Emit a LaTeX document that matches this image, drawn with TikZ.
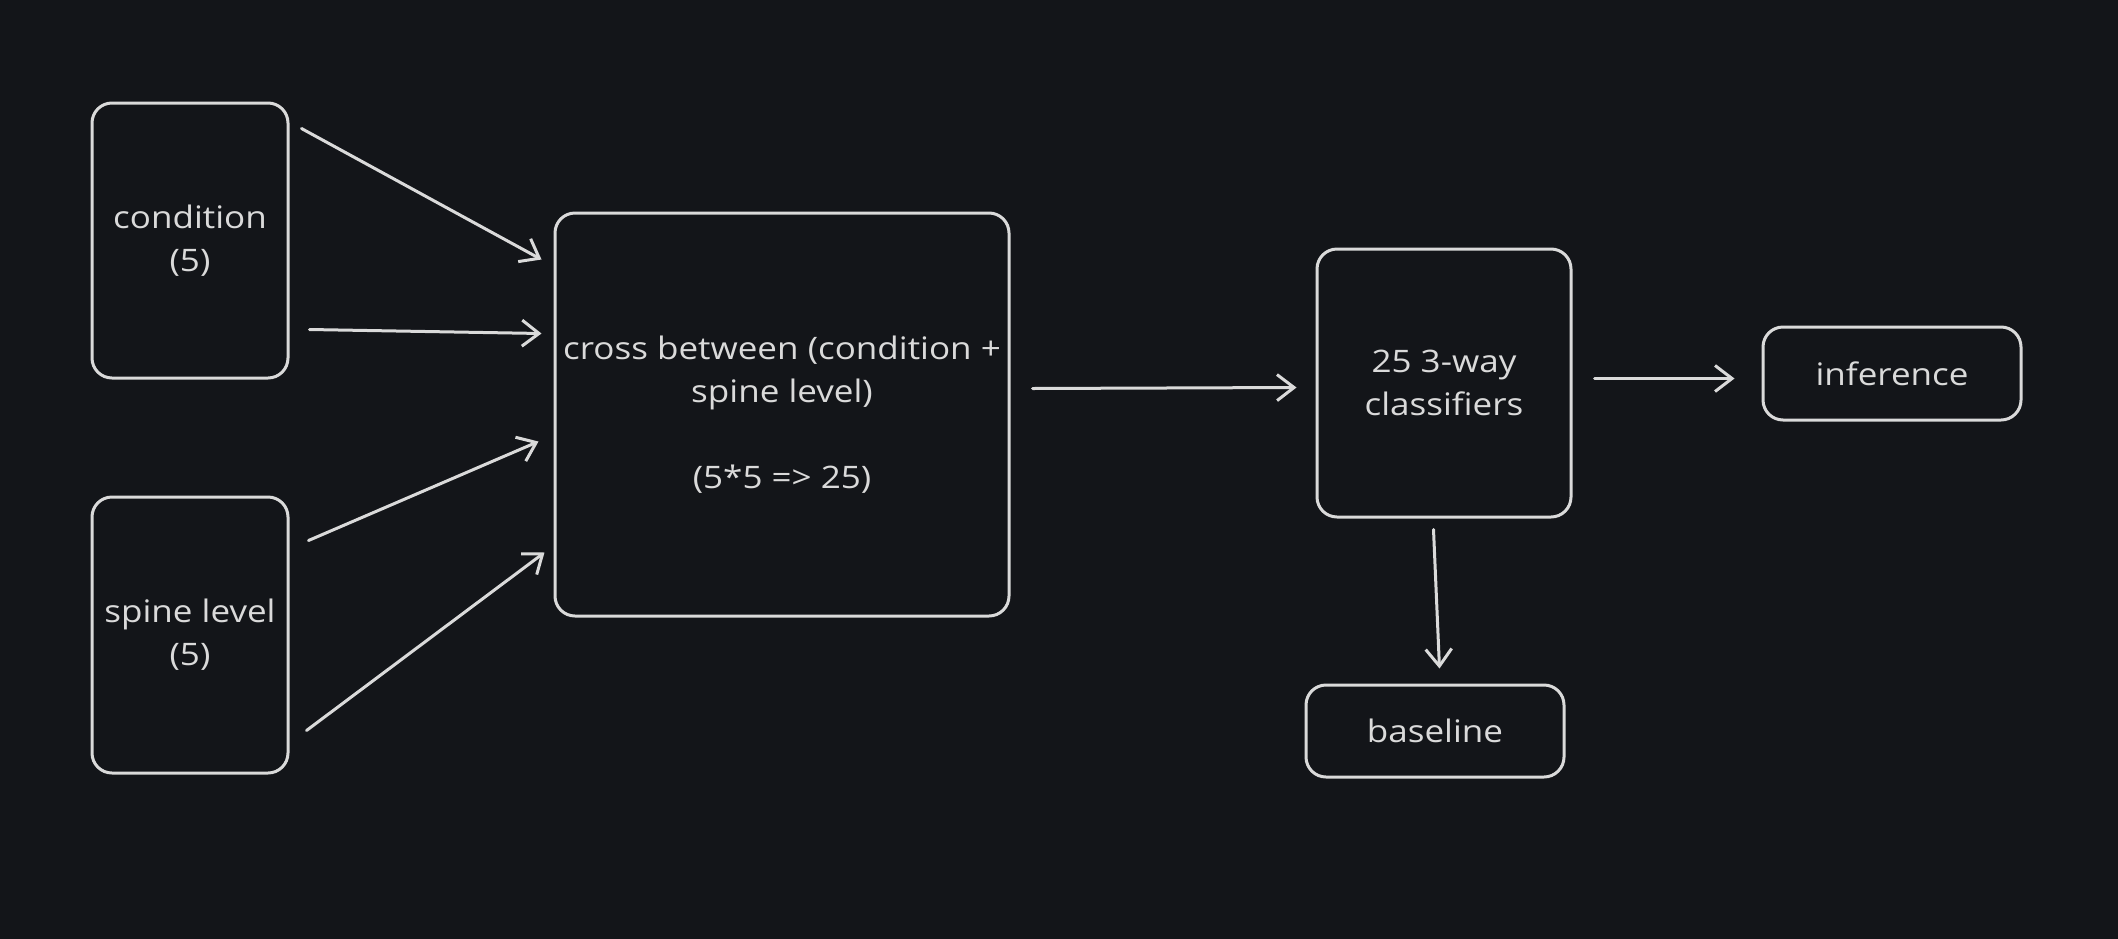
\documentclass[tikz,border=0pt]{standalone}
\usepackage{fontspec}
\setmainfont{Open Sans}[FakeStretch=1.13]
\usetikzlibrary{arrows.meta,calc}
\definecolor{bgc}{HTML}{131519}
\definecolor{ink}{HTML}{DADADA}
\begin{document}
\begin{tikzpicture}[x=1pt,y=-1pt,
  box/.style={draw=ink,line width=3pt,rounded corners=20pt,text=ink,align=center,
    inner sep=0pt,font=\fontsize{31}{43}\selectfont},
  conn/.style={draw=ink,line width=3pt,-{Straight Barb[length=17pt,width=26pt,line width=3pt]},line cap=round}]
\useasboundingbox (0,0) rectangle (2118,938);
\fill[bgc] (-10,-10) rectangle (2128,948);
\node[box,minimum width=196pt,minimum height=275pt] (cond) at (190,240.5) {condition\\(5)};
\node[box,minimum width=196pt,minimum height=276pt] (spine) at (190,635) {spine level\\(5)};
\node[box,minimum width=454pt,minimum height=403pt] (cross) at (782,414.5) {cross between (condition +\\spine level)\\[43pt](5*5 => 25)};
\node[box,minimum width=254pt,minimum height=268pt] (clf) at (1444,383) {25 3-way\\classifiers};
\node[box,minimum width=258pt,minimum height=93pt] (inf) at (1892,373.5) {inference};
\node[box,minimum width=258pt,minimum height=92pt] (base) at (1435,731) {baseline};
\draw[conn] ($(cond.north east)+(12,27)$) -- ($(cross.north west)+(-12,48)$);
\draw[conn] ($(cond.north east)+(20,228)$) -- ($(cross.north west)+(-12,122)$);
\draw[conn] ($(spine.north east)+(19,45)$) -- ($(cross.north west)+(-15,230)$);
\draw[conn] ($(spine.north east)+(17,235)$) -- ($(cross.north west)+(-9,341)$);
\draw[conn] ($(cross.north east)+(22,177)$) -- ($(clf.north west)+(-19,140)$);
\draw[conn] ($(clf.north east)+(22,131)$) -- ($(inf.north west)+(-27,53)$);
\draw[conn] ($(clf.south west)+(118,11)$) -- ($(base.north west)+(135,-15)$);
\end{tikzpicture}
\end{document}
